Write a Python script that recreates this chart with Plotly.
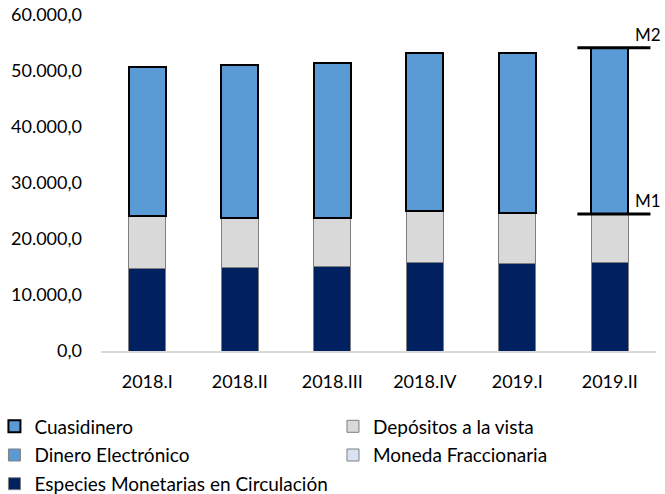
import plotly.graph_objects as go

periodos = ['2018.I', '2018.II', '2018.III', '2018.IV', '2019.I', '2019.II']

especies = [14660, 14830, 15010, 15730, 15550, 15730]
moneda = [90, 90, 91, 92, 92, 93]
dinero_elec = [30, 30, 28, 28, 30, 33]
depositos = [9350, 8820, 8640, 9170, 8990, 8630]
cuasidinero = [26630, 27350, 27700, 28240, 28600, 29670]

y_ticks = [0, 10000, 20000, 30000, 40000, 50000, 60000]

FONT = 'Lato, "Open Sans", sans-serif'
GRIS = '#7f7f7f'

xs = list(range(len(periodos)))

fig = go.Figure()

# (nombre, valores, relleno, borde, ancho borde, leyenda, orden)
series = [
    ('Especies Monetarias en Circulación', especies, '#002060', GRIS, 1, 'legend', 3),
    ('Moneda Fraccionaria', moneda, '#dae3f3', GRIS, 1, 'legend2', 2),
    ('Dinero Electrónico', dinero_elec, '#5b9bd5', GRIS, 1, 'legend', 2),
    ('Depósitos a la vista', depositos, '#d9d9d9', GRIS, 1, 'legend2', 1),
    ('Cuasidinero', cuasidinero, '#5b9bd5', '#000000', 2, 'legend', 1),
]
for nombre, vals, color, borde, ancho, ley, rank in series:
    fig.add_trace(go.Bar(
        name=nombre, x=xs, y=vals, width=0.4,
        marker=dict(color=color, line=dict(color=borde, width=ancho)),
        legend=ley, legendrank=rank, legendgroup=nombre,
    ))

# lineas M1 / M2 sobre la ultima barra
i = len(periodos) - 1
m1 = especies[i] + moneda[i] + dinero_elec[i] + depositos[i]
m2 = m1 + cuasidinero[i]
for nivel, etiqueta in [(m1, 'M1'), (m2, 'M2')]:
    fig.add_trace(go.Scatter(
        x=[i - 0.35, i + 0.44], y=[nivel, nivel], mode='lines',
        line=dict(color='black', width=3), showlegend=False, hoverinfo='skip',
    ))
    fig.add_annotation(x=i + 0.41, y=nivel, text=etiqueta, showarrow=False,
                       xanchor='center', yanchor='bottom', yshift=1,
                       font=dict(size=17, color='black', family=FONT))

ley_comun = dict(orientation='v', yanchor='top', xanchor='left',
                 traceorder='grouped', tracegroupgap=1,
                 font=dict(size=19, family=FONT), bgcolor='rgba(0,0,0,0)')

fig.update_layout(
    barmode='stack',
    width=665, height=494,
    margin=dict(l=101, r=9, t=15, b=143, autoexpand=False),
    plot_bgcolor='white', paper_bgcolor='white',
    separators=',.',
    font=dict(family=FONT, size=18, color='#000000'),
    showlegend=True,
    legend=dict(x=-0.192, y=-0.168, **ley_comun),
    legend2=dict(x=0.418, y=-0.168, **ley_comun),
)
fig.update_xaxes(
    range=[-0.5, 5.5], tickvals=xs, ticktext=periodos,
    showline=True, linecolor='#d9d9d9', linewidth=1.5,
    showgrid=False, zeroline=False, ticks='', ticklabelstandoff=14,
)
fig.update_yaxes(
    range=[0, 60000], tickvals=y_ticks, tickformat=',.1f',
    showgrid=False, zeroline=False, showline=False, ticks='',
    ticklabelstandoff=18,
)

# sin margen del body para que la figura empiece en (0, 0)
fig.write_html('out.html', config={'displayModeBar': False},
               post_script="document.body.style.margin='0';")
